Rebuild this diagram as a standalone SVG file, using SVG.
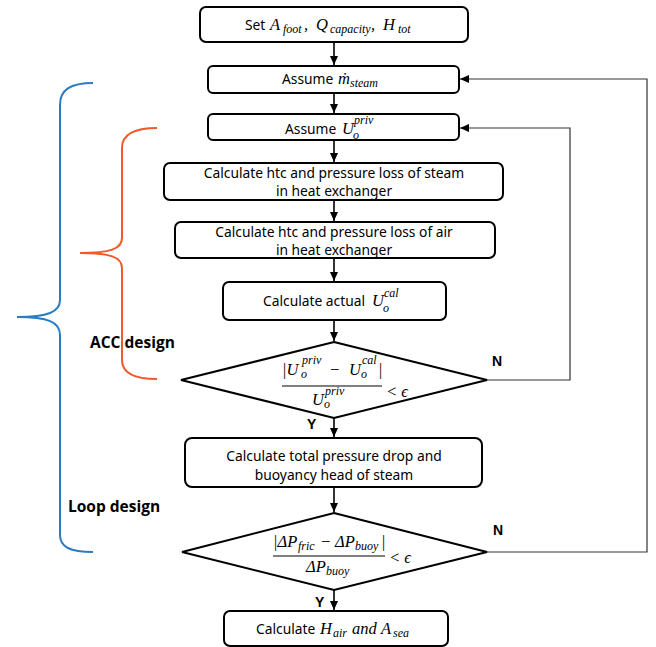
<svg xmlns="http://www.w3.org/2000/svg" width="656" height="647" viewBox="0 0 656 647">
<defs>
<marker id="ah" markerWidth="10" markerHeight="10" refX="9" refY="5" orient="auto" markerUnits="userSpaceOnUse">
<path d="M0,1 L9,5 L0,9 Z" fill="#000"/>
</marker>
<style>
.box{fill:#fff;stroke:#000;stroke-width:2}
.t{font-family:"Noto Sans","Open Sans",sans-serif;font-size:13.8px;fill:#000}
.m{font-family:"Liberation Serif","DejaVu Serif",serif;font-style:italic;font-size:16.5px;fill:#000}
.s{font-size:12px}
.lbl{font-family:"Liberation Sans",Arial,sans-serif;font-weight:bold;font-size:14px;fill:#000}
.grp{font-family:"Open Sans","Noto Sans",sans-serif;font-weight:bold;font-size:15.5px;fill:#000}
.conn{stroke:#000;stroke-width:1.6;fill:none}
.loop{stroke:#333;stroke-width:1.2;fill:none}
</style>
</defs>
<rect width="656" height="647" fill="#fff"/>

<g id="braces">
<path d="M93,83 C70,83 60,90 60,105 L60,300 C60,312 48,317 17,317 C48,317 60,322 60,335 L60,535 C60,547 70,552 93,552" fill="none" stroke="#2a7bbf" stroke-width="2"/>
<path d="M157,128 C135,128 122,134 122,148 L122,238 C122,249 110,253 80,253 C110,253 122,257 122,268 L122,360 C122,373 135,379 157,379" fill="none" stroke="#ef5a2a" stroke-width="2"/>
<text class="grp" x="90" y="348">ACC design</text>
<text class="grp" x="68" y="512">Loop design</text>
</g>

<g id="connectors">
<line class="conn" x1="334" y1="42" x2="334" y2="65" marker-end="url(#ah)"/>
<line class="conn" x1="334" y1="93" x2="334" y2="113" marker-end="url(#ah)"/>
<line class="conn" x1="334" y1="140" x2="334" y2="162" marker-end="url(#ah)"/>
<line class="conn" x1="334" y1="200" x2="334" y2="221" marker-end="url(#ah)"/>
<line class="conn" x1="334" y1="258" x2="334" y2="281" marker-end="url(#ah)"/>
<line class="conn" x1="334" y1="320" x2="334" y2="341" marker-end="url(#ah)"/>
<line class="conn" x1="334" y1="418" x2="334" y2="437" marker-end="url(#ah)"/>
<line class="conn" x1="334" y1="487" x2="334" y2="512" marker-end="url(#ah)"/>
<line class="conn" x1="334" y1="590" x2="334" y2="610" marker-end="url(#ah)"/>
<polyline class="loop" points="487,380 570,380 570,128 460,128" marker-end="url(#ah)"/>
<polyline class="loop" points="487,552 647,552 647,79 460,79" marker-end="url(#ah)"/>
<text class="lbl" x="492" y="366">N</text>
<text class="lbl" x="493" y="535">N</text>
<text class="lbl" x="307" y="429">Y</text>
<text class="lbl" x="315" y="607">Y</text>
</g>

<g id="n1">
<rect class="box" x="200" y="7" width="268" height="35" rx="6"/>
<text class="t" x="245" y="30">Set</text>
<text class="m" x="270" y="30">A</text>
<text class="m s" x="283" y="33">foot</text>
<text class="m" x="304" y="30">,</text>
<text class="m" x="316" y="30">Q</text>
<text class="m s" x="330" y="33">capacity</text>
<text class="m" x="371" y="30">,</text>
<text class="m" x="383" y="30">H</text>
<text class="m s" x="398" y="33">tot</text>
</g>

<g id="n2">
<rect class="box" x="208" y="66" width="251" height="27" rx="5"/>
<text class="t" x="282" y="84">Assume</text>
<text class="m" x="338" y="84">ṁ</text>
<text class="m s" x="350" y="87">steam</text>
</g>

<g id="n3">
<rect class="box" x="208" y="114" width="251" height="26" rx="5"/>
<text class="t" x="285" y="134">Assume</text>
<text class="m" x="342" y="134">U</text>
<text class="m s" x="354" y="124">priv</text>
<text class="m s" x="353" y="139">o</text>
</g>

<g id="n4">
<rect class="box" x="164" y="163" width="339" height="37" rx="6"/>
<text class="t" x="334" y="178" text-anchor="middle">Calculate htc and pressure loss of steam</text>
<text class="t" x="334" y="196" text-anchor="middle">in heat exchanger</text>
</g>

<g id="n5">
<rect class="box" x="175" y="222" width="320" height="36" rx="6"/>
<text class="t" x="334" y="237" text-anchor="middle">Calculate htc and pressure loss of air</text>
<text class="t" x="334" y="255" text-anchor="middle">in heat exchanger</text>
</g>

<g id="n6">
<rect class="box" x="223" y="282" width="223" height="38" rx="6"/>
<text class="t" x="263" y="306">Calculate actual</text>
<text class="m" x="372" y="306">U</text>
<text class="m s" x="384" y="297">cal</text>
<text class="m s" x="383" y="312">o</text>
</g>

<g id="d1">
<polygon points="334,342 487,380 334,418 181,380" fill="#fff" stroke="#000" stroke-width="2"/>
<text class="m" x="282" y="375">|U</text>
<text class="m s" x="302" y="364">priv</text>
<text class="m s" x="301" y="378">o</text>
<text class="m" x="329" y="375">−</text>
<text class="m" x="349" y="375">U</text>
<text class="m s" x="362" y="364">cal</text>
<text class="m s" x="361" y="378">o</text>
<text class="m" x="378" y="375">|</text>
<line x1="282" y1="386" x2="382" y2="386" stroke="#000" stroke-width="1"/>
<text class="m" x="312" y="405">U</text>
<text class="m s" x="325" y="395">priv</text>
<text class="m s" x="324" y="408">o</text>
<text class="m" x="386" y="397">&lt; ϵ</text>
</g>

<g id="n7">
<rect class="box" x="185" y="438" width="297" height="49" rx="7"/>
<text class="t" x="334" y="461" text-anchor="middle">Calculate total pressure drop and</text>
<text class="t" x="334" y="480" text-anchor="middle">buoyancy head of steam</text>
</g>

<g id="d2">
<polygon points="334,513 487,552 334,590 182,552" fill="#fff" stroke="#000" stroke-width="2"/>
<text class="m" x="273" y="547">|ΔP</text>
<text class="m s" x="298" y="550">fric</text>
<text class="m" x="320" y="547">−</text>
<text class="m" x="335" y="547">ΔP</text>
<text class="m s" x="355" y="550">buoy</text>
<text class="m" x="381" y="547">|</text>
<line x1="273" y1="556" x2="385" y2="556" stroke="#000" stroke-width="1"/>
<text class="m" x="306" y="572">ΔP</text>
<text class="m s" x="326" y="575">buoy</text>
<text class="m" x="389" y="563">&lt; ϵ</text>
</g>

<g id="n8">
<rect class="box" x="224" y="611" width="224" height="35" rx="6"/>
<text class="t" x="256" y="634">Calculate</text>
<text class="m" x="320" y="634">H</text>
<text class="m s" x="333" y="637">air</text>
<text class="m" x="352" y="634">and</text>
<text class="m" x="381" y="634">A</text>
<text class="m s" x="393" y="637">sea</text>
</g>
</svg>
